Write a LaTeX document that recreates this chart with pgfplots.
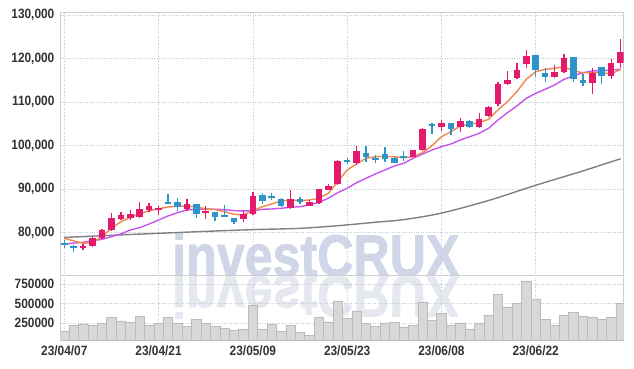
\documentclass[border=0pt]{standalone}
\usepackage{fontspec}
\setmainfont{Liberation Sans}
\newfontfamily\wmfont{Liberation Sans Bold}[FakeBold=1.6]
\usepackage{pgfplots}
\usepackage{pgfplotstable}
\pgfplotsset{compat=1.18}
\definecolor{candred}{HTML}{E31B6D}
\definecolor{candblue}{HTML}{2F95C8}
\definecolor{maorange}{HTML}{F0874A}
\definecolor{mapurple}{HTML}{C655EE}
\definecolor{magray}{HTML}{808080}
\definecolor{gridc}{HTML}{C3C8DA}
\definecolor{framec}{HTML}{CFCFCF}
\definecolor{volfill}{HTML}{D8D8D8}
\definecolor{voldraw}{HTML}{BBBBBB}
\definecolor{wmc}{HTML}{D0D6E8}
\definecolor{wmr}{HTML}{E6E8F0}
\definecolor{tickc}{HTML}{333333}

\pgfplotstableread{
i o h l c
2 76550 77330 76020 76950
3 77000 79100 76800 78850
4 78800 80800 78600 80600
5 80600 84450 80300 83300
6 83100 84800 82900 84000
7 83300 85200 82900 84400
8 83700 87000 83300 85400
9 85200 86900 84800 86100
10 85250 86200 84100 85650
13 85400 87800 85100 86600
15 84450 86200 83150 85050
19 83080 85000 82400 84230
20 84300 89400 84070 88370
24 85600 89800 85380 87800
26 86200 87500 86100 87060
27 86760 90100 86700 90000
28 89890 91100 89700 90740
29 91200 96600 91000 96480
31 96100 100000 95500 98780
37 97470 99100 97400 99000
38 99010 104000 98800 103840
40 104370 105900 103380 105300
42 104370 106300 103080 105680
44 104370 107450 104140 106140
45 106900 109200 106530 108970
46 109590 114700 109130 114190
47 114120 117180 113960 115110
48 115640 118950 115270 117410
49 118720 122000 117800 120620
52 115860 118550 115500 117000
53 117000 121000 116650 120100
56 114490 117800 111820 116800
58 116030 119850 115270 119100
59 118950 124460 117800 121620
}\upT

\pgfplotstableread{
i o h l c
0 77650 78300 76400 77250
1 76850 77200 75500 76450
11 87100 88800 86500 86700
12 87100 88050 85060 85800
14 86500 86500 83300 84200
16 84800 84800 82700 83700
17 84050 86300 83500 83650
18 83380 83400 81900 82530
21 88600 89200 86600 87200
22 88480 89200 87500 88080
23 87800 87900 86000 86070
25 87680 88280 86600 86990
30 96750 97240 95800 96350
32 98320 100000 96320 97470
33 97220 97860 95950 96820
34 98090 99630 96320 96940
35 97170 97300 96000 96090
36 97670 98850 96410 97270
39 104950 105150 102620 104550
41 105300 105300 102460 103770
43 105680 105910 104000 104370
50 120850 120850 115730 117400
51 116800 117800 114580 115860
54 120330 120330 114700 115270
55 115100 116490 113730 114490
57 118030 118030 114120 116030
}\downT

\pgfplotstableread{
i v
0 151000
1 228000
2 241000
3 228000
4 250000
5 327000
6 280000
7 267000
8 344000
9 228000
10 250000
11 327000
12 254000
13 215000
14 301000
15 254000
16 215000
17 190000
18 164000
19 177000
20 485000
21 177000
22 241000
23 151000
24 228000
25 138000
26 100000
27 331000
28 267000
29 536000
30 314000
31 408000
32 254000
33 215000
34 254000
35 267000
36 203000
37 228000
38 523000
39 292000
40 382000
41 228000
42 254000
43 177000
44 254000
45 356000
46 626000
47 459000
48 510000
49 792000
50 562000
51 305000
52 228000
53 356000
54 395000
55 344000
56 331000
57 305000
58 331000
59 501000
}\volT

\begin{document}
\begin{tikzpicture}
\path[use as bounding box] (0pt,0pt) rectangle (634pt,369pt);
% watermark
\node[anchor=base west, inner sep=0pt, xscale=0.855, text=wmc, font=\fontsize{58.7}{60}\wmfont] at (172pt,93pt) {investCRUX};
\node[anchor=base west, inner sep=0pt, xscale=0.855, yscale=-1, text=wmr, font=\fontsize{58.7}{60}\wmfont] at (172pt,93pt) {investCRUX};

\pgfplotsset{
  every axis/.append style={
    scale only axis,
    width=563pt,
    xmin=-0.38, xmax=59.33,
    axis line style={framec, line width=0.8pt},
    major tick length=0pt,
    grid=major,
    major grid style={gridc, dotted, line width=0.7pt},
    xtick={0,10,20,30,40,50},
    tick label style={font=\fontsize{13.5}{14}\selectfont\bfseries, text=tickc, xscale=0.88},
    /pgf/number format/assume math mode=true,
    scaled y ticks=false,
  }
}

\begin{axis}[
  at={(60.7pt,93.7pt)}, anchor=south west,
  height=262.6pt,
  ymin=70200, ymax=130580,
  ytick={80000,90000,100000,110000,120000,130000},
  xticklabels={},
  yticklabel style={anchor=east, inner sep=0pt, xshift=-7pt,
    /pgf/number format/.cd, fixed, precision=0, 1000 sep={,}},
]
% moving averages
\addplot[magray, line width=1.4pt, smooth, mark=none] coordinates {
(0,78900) (5,79400) (10,79850) (15,80300) (20,80700) (25,81000) (29,81600)
(33,82400) (36,83000) (40,84500) (45,87400) (50,90900) (55,94200) (59,97000)};
\addplot[mapurple, line width=1.4pt, mark=none] coordinates {
(0,77400) (1,77600) (2,77790) (3,78160) (4,78480) (5,79080) (6,79700) (7,80620)
(8,81150) (9,82000) (10,82920) (11,83840) (12,84600) (13,85220) (14,85380)
(15,85450) (16,85380) (17,85300) (18,85060) (19,85000) (20,85000) (21,85380)
(22,85450) (23,85610) (24,85840) (25,85980) (26,86370) (27,86990) (28,87910)
(29,89200) (30,90210) (31,91500) (32,92510) (33,93500) (34,94420) (35,95330)
(36,95950) (37,97100) (38,98090) (39,99010) (40,99770) (41,100390) (42,101310)
(43,102070) (44,102850) (45,104000) (46,105910) (47,107590) (48,109130)
(49,110900) (50,112050) (51,112970) (52,113960) (53,115270) (54,116030)
(55,116780) (56,117180) (57,117250) (58,117410) (59,117560)};
\addplot[maorange, line width=1.4pt, mark=none] coordinates {
(0,78700) (1,78100) (2,77560) (3,77700) (4,79100) (5,81000) (6,82500) (7,83500)
(8,84400) (9,85000) (10,85500) (11,85900) (12,86100) (13,86100) (14,85980)
(15,85450) (16,85300) (17,84830) (18,84230) (19,84070) (20,85060) (21,85980)
(22,86600) (23,87290) (24,87520) (25,87370) (26,87520) (27,87910) (28,89060)
(29,91730) (30,94420) (31,95800) (32,97100) (33,97470) (34,97550) (35,97470)
(36,97240) (37,97470) (38,98390) (39,100000) (40,102070) (41,103220)
(42,104530) (43,104920) (44,105290) (45,106070) (46,108210) (47,110120)
(48,112420) (49,115270) (50,117010) (51,117560) (52,117800) (53,118160)
(54,117180) (55,116780) (56,116780) (57,116780) (58,116490) (59,117560)};
% wicks
\addplot[draw=none, mark=none, error bars/.cd, y dir=both, y explicit, error mark=none,
  error bar style={draw=candred, solid, line width=1.3pt}]
  table[x=i, y expr={(\thisrow{h}+\thisrow{l})/2}, y error expr={(\thisrow{h}-\thisrow{l})/2}] {\upT};
\addplot[draw=none, mark=none, error bars/.cd, y dir=both, y explicit, error mark=none,
  error bar style={draw=candblue, solid, line width=1.3pt}]
  table[x=i, y expr={(\thisrow{h}+\thisrow{l})/2}, y error expr={(\thisrow{h}-\thisrow{l})/2}] {\downT};
% bodies
\addplot[draw=none, mark=none, error bars/.cd, y dir=both, y explicit, error mark=none,
  error bar style={draw=candred, solid, line width=6.5pt}]
  table[x=i, y expr={(\thisrow{o}+\thisrow{c})/2}, y error expr={abs(\thisrow{c}-\thisrow{o})/2}] {\upT};
\addplot[draw=none, mark=none, error bars/.cd, y dir=both, y explicit, error mark=none,
  error bar style={draw=candblue, solid, line width=6.5pt}]
  table[x=i, y expr={(\thisrow{o}+\thisrow{c})/2}, y error expr={abs(\thisrow{c}-\thisrow{o})/2}] {\downT};
\end{axis}

\begin{axis}[
  at={(60.7pt,28.3pt)}, anchor=south west,
  height=65.4pt,
  ymin=27000, ymax=865000,
  ytick={250000,500000,750000},
  xticklabels={23/04/07,23/04/21,23/05/09,23/05/23,23/06/08,23/06/22},
  xticklabel style={anchor=north, inner sep=0pt, yshift=-4.5pt},
  yticklabel style={anchor=east, inner sep=0pt, xshift=-7pt,
    /pgf/number format/.cd, fixed, precision=0, 1000 sep={}},
]
\addplot[ybar, bar width=1, bar shift=0pt, fill=volfill, draw=voldraw, line width=0.6pt]
  table[x=i, y=v] {\volT};
\end{axis}
\end{tikzpicture}
\end{document}
